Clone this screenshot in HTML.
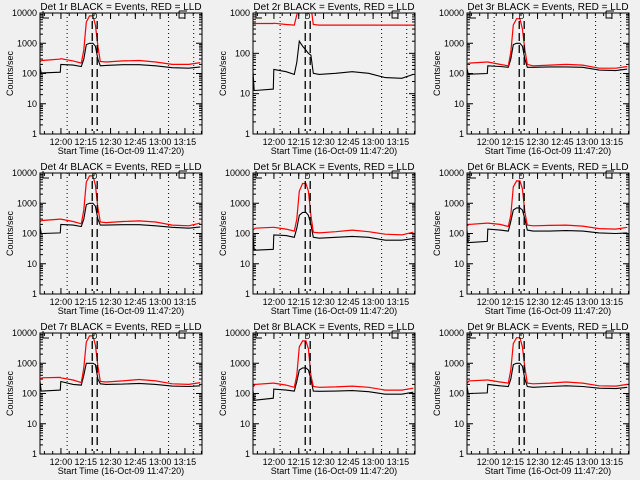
<!DOCTYPE html>
<html><head><meta charset="utf-8"><style>
html,body{margin:0;padding:0;background:#f0f0f0}
svg{display:block}
text{font-family:"Liberation Sans",sans-serif;fill:#000}
</style></head><body>
<svg id="chart" width="640" height="480" viewBox="0 0 640 480"></svg>
<script>
const T = [0, 0.7, 1.2, 12.3, 12.6, 20, 25, 26.5, 28, 30, 32, 33.5, 35, 36.5, 40, 50, 60, 70, 80, 90, 97];
const detNames = ["1r","2r","3r","4r","5r","6r","7r","8r","9r"];
const yMaxDecade = [4,3,4,4,4,4,4,4,4];
const black1 = [180,100,105,110,200,190,170,300,900,1000,1000,800,300,180,185,195,195,180,155,150,165];
const red1 = [250,260,270,300,310,260,220,600,5000,8000,8000,4000,800,250,240,260,270,240,200,200,230];
const black2 = [35,12,12,13,40,35,30,60,200,150,120,100,90,32,30,32,35,32,25,24,30];
const red2 = [550,550,550,550,560,520,500,900,1500,1500,1500,1500,1500,520,500,500,500,500,500,500,500];
const black3 = [150,95,95,100,180,170,160,300,900,1000,1000,800,300,160,160,165,165,160,130,125,140];
const red3 = [200,210,220,240,240,200,180,500,4000,6500,6500,3000,600,200,180,190,200,190,150,150,170];
const black4 = [180,100,100,105,200,190,170,300,900,1000,1000,800,300,190,190,195,195,180,160,150,165];
const red4 = [250,260,270,300,300,250,210,600,5000,8000,8000,4000,700,240,230,250,260,240,190,180,220];
const black5 = [100,28,28,30,90,85,75,150,400,500,500,400,200,75,70,75,80,75,60,60,68];
const red5 = [130,140,150,160,160,140,120,300,2500,4500,4500,2500,400,110,105,115,130,115,95,90,110];
const black6 = [130,50,50,55,140,130,120,250,600,700,700,600,300,130,120,120,125,120,105,100,105];
const red6 = [180,190,200,220,220,200,170,400,3500,5500,5500,3000,500,190,180,185,190,175,145,140,160];
const black7 = [250,120,120,130,250,200,190,400,1000,1000,1000,900,300,210,200,205,215,200,175,170,180];
const red7 = [300,310,330,340,330,280,230,700,5000,8000,8000,4000,800,250,240,260,290,260,210,200,230];
const black8 = [120,60,60,70,140,130,120,250,600,700,700,600,300,120,118,120,125,115,95,95,110];
const red8 = [170,180,200,220,220,190,160,400,3500,5500,5500,3000,400,170,160,165,175,160,130,130,150];
const black9 = [180,100,100,105,200,180,170,300,900,1000,1000,800,300,170,160,170,180,170,150,145,160];
const red9 = [230,240,260,280,280,240,220,600,4500,7000,7000,3500,700,220,210,220,240,220,180,175,200];
const blacks = [black1,black2,black3,black4,black5,black6,black7,black8,black9];
const reds = [red1,red2,red3,red4,red5,red6,red7,red8,red9];
const xTickMin = [12.67, 27.67, 42.67, 57.67, 72.67, 87.67];
const xTickLabels = ["12:00","12:15","12:30","12:45","13:00","13:15"];
const dottedT = [16.4, 77.8, 93];
const dashedT = [31.6, 34.6];
const tMax = 98;

const NS="http://www.w3.org/2000/svg";
const svg=document.getElementById('chart');
function mk(tag,attrs,parent){const e=document.createElementNS(NS,tag);for(const k in attrs)e.setAttribute(k,attrs[k]);(parent||svg).appendChild(e);return e;}
const colL=[40,253,467], rowT=[13,173,333], W=162, H=121;

for(let p=0;p<9;p++){
  const L=colL[p%3], Tp=rowT[Math.floor(p/3)], B=Tp+H, maxD=yMaxDecade[p];
  const g=mk('g',{});
  
  
  const xs=t=>L+t/tMax*W;
  const ys=v=>B-Math.log10(v)/maxD*H;
  const cid='clip'+p;
  const cp=mk('clipPath',{id:cid},g);mk('rect',{x:L,y:Tp,width:W,height:H},cp);
  const tt=mk('text',{x:L+W/2,y:Tp-3,'text-anchor':'middle','font-size':'10'},g);
  tt.textContent='Det '+detNames[p]+' BLACK = Events, RED = LLD';
  
  
  for(let d=0;d<=maxD;d++){
    const y=ys(Math.pow(10,d));
    mk('line',{x1:L,x2:L+6,y1:y,y2:y,stroke:'#000'},g);
    mk('line',{x1:L+W,x2:L+W-6,y1:y,y2:y,stroke:'#000'},g);
    const lb=mk('text',{x:L-3,y:y+3,'text-anchor':'end','font-size':'9'},g);
    lb.textContent=String(Math.pow(10,d));
    
    
    if(d<maxD){for(let m=2;m<10;m++){const ym=ys(m*Math.pow(10,d));
      mk('line',{x1:L,x2:L+3,y1:ym,y2:ym,stroke:'#000'},g);
      mk('line',{x1:L+W,x2:L+W-3,y1:ym,y2:ym,stroke:'#000'},g);}}
  }
  const yt=mk('text',{x:0,y:0,'text-anchor':'middle','font-size':'9',transform:'translate('+(L-27)+','+(Tp+H/2)+') rotate(-90)'},g);
  yt.textContent='Counts/sec';
  
  
  for(let m=0;m<tMax;m+=5){const t=m+2.67;if(t>tMax)break;const x=xs(t);
    mk('line',{x1:x,x2:x,y1:B,y2:B-3,stroke:'#000'},g);mk('line',{x1:x,x2:x,y1:Tp,y2:Tp+3,stroke:'#000'},g);}
  xTickMin.forEach((t,i)=>{const x=xs(t);
    mk('line',{x1:x,x2:x,y1:B,y2:B-6,stroke:'#000'},g);mk('line',{x1:x,x2:x,y1:Tp,y2:Tp+6,stroke:'#000'},g);
    const lb=mk('text',{x:x,y:B+11,'text-anchor':'middle','font-size':'9'},g);
    lb.textContent=xTickLabels[i];
    
    });
  const xt=mk('text',{x:L+W/2,y:B+20,'text-anchor':'middle','font-size':'9'},g);
  xt.textContent='Start Time (16-Oct-09 11:47:20)';
  
  
  dottedT.forEach(t=>{const x=xs(t);const l=mk('line',{x1:x,x2:x,y1:Tp,y2:B,stroke:'#000','stroke-dasharray':'1 3'},g);
    
    });
  const ptsR=T.map((t,i)=>xs(t).toFixed(1)+','+ys(reds[p][i]).toFixed(1)).join(' ');
  const ptsB=T.map((t,i)=>xs(t).toFixed(1)+','+ys(blacks[p][i]).toFixed(1)).join(' ');
  const lb=mk('polyline',{points:ptsB,fill:'none',stroke:'#000','stroke-width':'1.1','clip-path':'url(#'+cid+')'},g);
  
  
  const lr=mk('polyline',{points:ptsR,fill:'none',stroke:'#ff0000','stroke-width':'1.2','clip-path':'url(#'+cid+')'},g);
  
  
  dashedT.forEach(t=>{const x=xs(t);const l=mk('line',{x1:x,x2:x,y1:Tp+8,y2:B-3,stroke:'#000','stroke-width':'1.3','stroke-dasharray':'8 4'},g);
    
    });
  mk('path',{d:'M'+(L+3)+','+(Tp-2)+' V'+(Tp+5)+' H'+(L+9),fill:'none',stroke:'#000'},g);
  mk('path',{d:'M'+(xs(80.5)+6)+','+(Tp-2)+' V'+(Tp+5)+' H'+(xs(80.5)+12),fill:'none',stroke:'#000'},g);
  mk('path',{d:'M'+(xs(80.5)+6)+','+(Tp-2)+' H'+(xs(80.5)+14),fill:'none',stroke:'#000'},g);
  const mt=mk('text',{x:xs(33),y:Tp+6,'text-anchor':'middle','font-size':'8'},g);
  mt.textContent='D';
  
  
  const fr=mk('rect',{x:L,y:Tp,width:W,height:H,fill:'none',stroke:'#000'},g);
  
  
}
</script>
</body></html>
